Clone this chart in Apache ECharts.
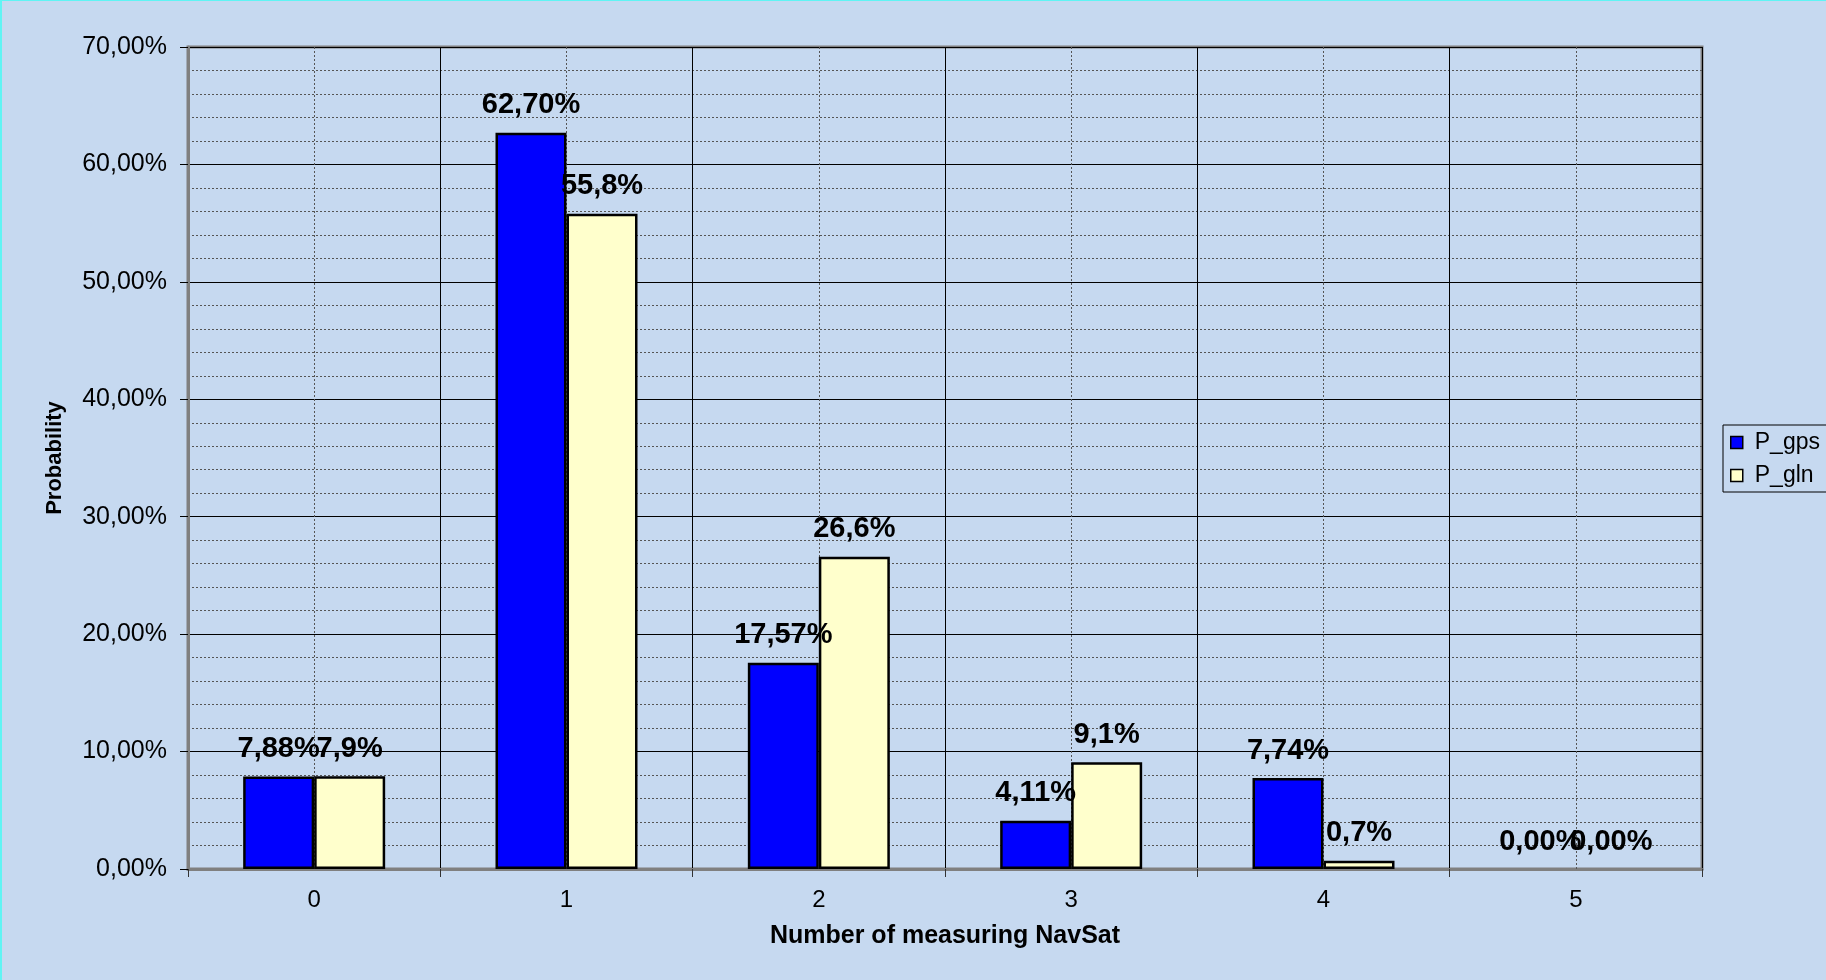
<!DOCTYPE html>
<html>
<head>
<meta charset="utf-8">
<script src="https://cdn.jsdelivr.net/npm/echarts@6/dist/echarts.min.js"></script>
<style>
  html, body { margin: 0; padding: 0; background: #C6D9F0; overflow: hidden; }
  #chart { position: absolute; left: 0; top: 0; width: 1826px; height: 980px; }
  #edgeL { position: absolute; left: 0; top: 0; width: 2px; height: 980px; background: #60F4F4; }
  #edgeT { position: absolute; left: 0; top: 0; width: 1826px; height: 1px; background: #60F4F4; }
</style>
</head>
<body>
<div id="chart"></div>
<div id="edgeL"></div>
<div id="edgeT"></div>
<script>
const categories = ['0', '1', '2', '3', '4', '5'];
const pGps = [7.88, 62.70, 17.57, 4.11, 7.74, 0.00];
const pGln = [7.9, 55.8, 26.6, 9.1, 0.7, 0.0];
const gpsLabels = ['7,88%', '62,70%', '17,57%', '4,11%', '7,74%', '0,00%'];
const glnLabels = ['7,9%', '55,8%', '26,6%', '9,1%', '0,7%', '0,00%'];
const yTickLabels = ['0,00%', '10,00%', '20,00%', '30,00%', '40,00%', '50,00%', '60,00%', '70,00%'];

const FONT = 'Liberation Sans, Arial, sans-serif';
const chart = echarts.init(document.getElementById('chart'), null, { renderer: 'canvas' });

const labelStyle = {
  show: true, position: 'top', distance: 13,
  fontFamily: FONT, fontWeight: 'bold', fontSize: 29, color: '#000'
};

// zero-height bars draw no outline
const toItems = arr => arr.map(v => v === 0 ? { value: v, itemStyle: { borderWidth: 0 } } : v);

chart.setOption({
  backgroundColor: '#C6D9F0',
  animation: false,
  grid: {
    left: 188, right: 124, top: 47, bottom: 111,
    show: true, borderColor: '#808080', borderWidth: 3, backgroundColor: 'transparent'
  },
  legend: {
    orient: 'vertical', left: 1723, top: 425,
    padding: [6, 12, 5, 7], itemGap: 10, itemWidth: 12, itemHeight: 12,
    borderColor: '#000', borderWidth: 1, backgroundColor: 'transparent',
    icon: 'rect',
    itemStyle: { borderColor: '#000', borderWidth: 1.5 },
    textStyle: { fontFamily: FONT, fontSize: 23, color: '#000', padding: [0, 0, 0, 7] },
    data: ['P_gps', 'P_gln']
  },
  xAxis: {
    type: 'category', data: categories,
    name: 'Number of measuring NavSat', nameLocation: 'middle', nameGap: 55,
    nameTextStyle: { fontFamily: FONT, fontWeight: 'bold', fontSize: 25, color: '#000' },
    axisLine: { lineStyle: { color: '#808080', width: 3 } },
    axisTick: { show: true, length: 8, lineStyle: { color: '#333', width: 1 } },
    axisLabel: { fontFamily: FONT, fontSize: 24, color: '#000', margin: 19 },
    splitLine: { show: true, lineStyle: { color: '#000', width: 1 } }
  },
  yAxis: {
    type: 'value', min: 0, max: 70, interval: 10,
    name: 'Probability', nameLocation: 'middle', nameGap: 122, nameRotate: 90,
    nameTextStyle: { fontFamily: FONT, fontWeight: 'bold', fontSize: 22, color: '#000' },
    axisLine: { show: true, lineStyle: { color: '#808080', width: 3 } },
    axisTick: { show: true, length: 8, lineStyle: { color: '#000', width: 1 } },
    axisLabel: {
      fontFamily: FONT, fontSize: 25, color: '#000', margin: 21,
      formatter: v => yTickLabels[Math.round(v / 10)]
    },
    splitLine: { show: true, lineStyle: { color: '#000', width: 1 } },
    minorTick: { show: false, splitNumber: 5 },
    minorSplitLine: { show: true, lineStyle: { color: '#555', width: 1, type: [2, 2] } }
  },
  series: [
    {
      name: 'centerLines', type: 'line', data: [], silent: true,
      markLine: {
        silent: true, symbol: 'none', z: 1,
        label: { show: false },
        lineStyle: { color: '#555', width: 1, type: [2, 2] },
        data: categories.map(c => ({ xAxis: c }))
      }
    },
    {
      name: 'P_gps', type: 'bar', data: toItems(pGps),
      barWidth: 71, barGap: '0%',
      itemStyle: { color: '#0000FF', borderColor: '#000', borderWidth: 2.5 },
      label: Object.assign({}, labelStyle, { formatter: p => gpsLabels[p.dataIndex] })
    },
    {
      name: 'P_gln', type: 'bar', data: toItems(pGln),
      barWidth: 71, barGap: '0%',
      itemStyle: { color: '#FFFFCC', borderColor: '#000', borderWidth: 2.5 },
      label: Object.assign({}, labelStyle, { formatter: p => glnLabels[p.dataIndex] })
    }
  ]
});
</script>
</body>
</html>
